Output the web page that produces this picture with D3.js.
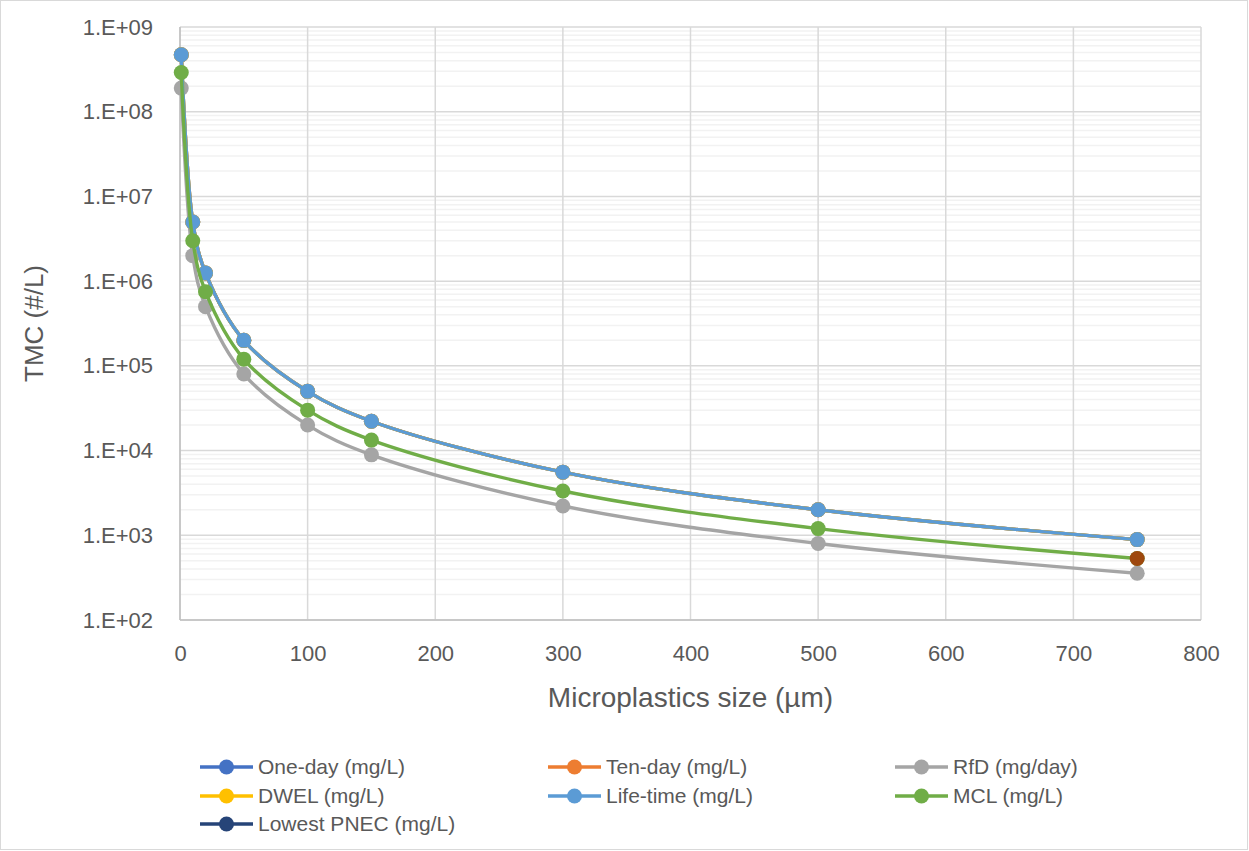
<!DOCTYPE html>
<html><head><meta charset="utf-8">
<script src="https://cdn.jsdelivr.net/npm/d3@7"></script>
<style>body{margin:0;background:#fff;} text{font-family:"Liberation Sans",Arial,sans-serif;}</style>
</head><body>
<svg id="c" width="1249" height="851"></svg>
<script>
const sizes = [1, 10, 20, 50, 100, 150, 300, 500, 750];
const oneDay   = [4.7e8, 5e6, 1.25e6, 2e5, 5e4, 2.22e4, 5.56e3, 2e3, 889];
const tenDay   = [4.7e8, 5e6, 1.25e6, 2e5, 5e4, 2.22e4, 5.56e3, 2e3, 889];
const rfd      = [1.9e8, 2e6, 5e5, 8e4, 2e4, 8.9e3, 2.22e3, 800, 356];
const dwel     = [4.7e8, 5e6, 1.25e6, 2e5, 5e4, 2.22e4, 5.56e3, 2e3, 889];
const lifeTime = [4.7e8, 5e6, 1.25e6, 2e5, 5e4, 2.22e4, 5.56e3, 2e3, 889];
const mcl      = [2.9e8, 3e6, 7.5e5, 1.2e5, 3e4, 1.33e4, 3.33e3, 1.2e3, 533];
const lowestPNEC = [];
const extraX = [750];
const extraY = [533];
const xTicks = [0,100,200,300,400,500,600,700,800];
const yTicks = [1e2,1e3,1e4,1e5,1e6,1e7,1e8,1e9];
const yTickLabels = ["1.E+02","1.E+03","1.E+04","1.E+05","1.E+06","1.E+07","1.E+08","1.E+09"];

const series = [
  {name:"One-day (mg/L)", color:"#4472C4", values:oneDay},
  {name:"Ten-day (mg/L)", color:"#ED7D31", values:tenDay},
  {name:"RfD (mg/day)", color:"#A5A5A5", values:rfd},
  {name:"DWEL (mg/L)", color:"#FFC000", values:dwel},
  {name:"Life-time (mg/L)", color:"#5B9BD5", values:lifeTime},
  {name:"MCL (mg/L)", color:"#70AD47", values:mcl},
  {name:"Lowest PNEC (mg/L)", color:"#264478", values:lowestPNEC}
];

const svg = d3.select("#c");
svg.append("rect").attr("x",0.5).attr("y",0.5).attr("width",1247).attr("height",849)
  .attr("fill","#fff").attr("stroke","#D9D9D9");

const L=180, R=1201, T=27, B=620;
const x = d3.scaleLinear().domain([0,800]).range([L,R]);
const y = d3.scaleLog().domain([1e2,1e9]).range([B,T]);

const g = svg.append("g");
for (let e=2;e<9;e++){
  for (let m=2;m<=9;m++){
    const v = m*Math.pow(10,e);
    g.append("line").attr("x1",L).attr("x2",R).attr("y1",y(v)).attr("y2",y(v))
      .attr("stroke","#F2F2F2").attr("stroke-width",1.5);
  }
}
yTicks.forEach(v=>{
  g.append("line").attr("x1",L).attr("x2",R).attr("y1",y(v)).attr("y2",y(v))
    .attr("stroke","#D9D9D9").attr("stroke-width",1.5);
});
xTicks.forEach(v=>{
  g.append("line").attr("x1",x(v)).attr("x2",x(v)).attr("y1",T).attr("y2",B)
    .attr("stroke","#D9D9D9").attr("stroke-width",1.5);
});
// axis lines
g.append("line").attr("x1",L).attr("x2",L).attr("y1",T).attr("y2",B).attr("stroke","#BFBFBF").attr("stroke-width",1.5);
g.append("line").attr("x1",L).attr("x2",R).attr("y1",B).attr("y2",B).attr("stroke","#BFBFBF").attr("stroke-width",1.5);

const yAxis = d3.axisLeft(y).tickValues(yTicks).tickFormat((d,i)=>yTickLabels[i]).tickSize(0).tickPadding(27);
const ya = svg.append("g").attr("transform",`translate(${L},0)`).call(yAxis);
ya.select(".domain").remove();
ya.selectAll("text").attr("font-size",22).attr("fill","#595959").attr("font-family","Liberation Sans, Arial, sans-serif");

const xAxis = d3.axisBottom(x).tickValues(xTicks).tickFormat(d3.format("d")).tickSize(0).tickPadding(25);
const xa = svg.append("g").attr("transform",`translate(0,${B})`).call(xAxis);
xa.select(".domain").remove();
xa.selectAll("text").attr("font-size",22).attr("fill","#595959").attr("font-family","Liberation Sans, Arial, sans-serif");

svg.append("text").attr("x",(L+R)/2).attr("y",707).attr("text-anchor","middle")
  .attr("font-size",28).attr("fill","#595959").text("Microplastics size (µm)");
svg.append("text").attr("transform",`translate(43,${(T+B)/2}) rotate(-90)`).attr("text-anchor","middle")
  .attr("font-size",26).attr("fill","#595959").text("TMC (#/L)");

const line = d3.line().x(d=>x(d[0])).y(d=>y(d[1])).curve(d3.curveCatmullRom.alpha(0.5));
series.forEach(s=>{
  const pts = s.values.map((v,i)=>[sizes[i],v]);
  if(!pts.length) return;
  svg.append("path").attr("d",line(pts)).attr("fill","none").attr("stroke",s.color).attr("stroke-width",3.4);
  svg.append("g").selectAll("circle").data(pts).join("circle")
    .attr("cx",d=>x(d[0])).attr("cy",d=>y(d[1])).attr("r",7.5).attr("fill",s.color);
});
svg.append("g").selectAll("circle").data(extraX.map((v,i)=>[v,extraY[i]])).join("circle")
  .attr("cx",d=>x(d[0])).attr("cy",d=>y(d[1])).attr("r",7.5).attr("fill","#9E480E");

const colX=[200,548,895], rowY=[767,796,824];
series.forEach((s,i)=>{
  const cx = colX[i%3], cy=rowY[Math.floor(i/3)];
  const lg = svg.append("g");
  lg.append("line").attr("x1",cx).attr("x2",cx+53).attr("y1",cy).attr("y2",cy).attr("stroke",s.color).attr("stroke-width",3.4);
  lg.append("circle").attr("cx",cx+26.5).attr("cy",cy).attr("r",7.5).attr("fill",s.color);
  lg.append("text").attr("x",cx+58).attr("y",cy).attr("dy","0.35em").attr("font-size",21).attr("fill","#595959").text(s.name);
});
</script>
</body></html>
